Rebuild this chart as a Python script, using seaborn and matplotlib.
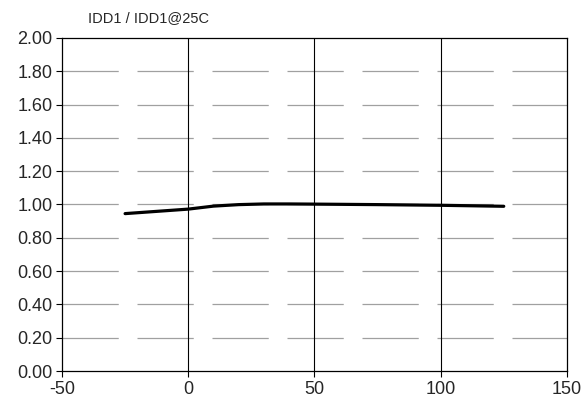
import matplotlib
matplotlib.use("Agg")
import matplotlib.pyplot as plt
import seaborn as sns
import numpy as np
import pandas as pd

# Data
temp_c = [-25, 0, 10, 20, 30, 40, 50, 75, 100, 125]
idd_ratio = [0.945, 0.972, 0.99, 0.999, 1.003, 1.003, 1.002, 0.999, 0.995, 0.989]
x_ticks = [-50, 0, 50, 100, 150]
y_ticks = np.arange(0, 2.01, 0.2)

df = pd.DataFrame({"temp": temp_c, "ratio": idd_ratio})

sns.set_style("white")
plt.rcParams['font.family'] = ['Liberation Sans', 'DejaVu Sans']
plt.rcParams['axes.unicode_minus'] = False

fig = plt.figure(figsize=(5.82, 4.12), dpi=100)
ax = fig.add_axes([0.1065, 0.0995, 0.8675, 0.8085])

# horizontal dashed grid
for yv in y_ticks[1:-1]:
    ax.axhline(yv, color='#a0a0a0', linewidth=0.9, dashes=(45, 15), zorder=1)
# vertical solid grid
for xv in x_ticks[1:-1]:
    ax.axvline(xv, color='black', linewidth=0.8, zorder=1)

sns.lineplot(data=df, x="temp", y="ratio", color='black', linewidth=2.3, ax=ax, zorder=3)

ax.set_xlim(-50, 150)
ax.set_ylim(0, 2)
ax.set_xticks(x_ticks)
ax.set_xticklabels([str(v) for v in x_ticks])
ax.set_yticks(y_ticks)
ax.set_yticklabels([f"{v:.2f}" for v in y_ticks])
ax.set_xlabel("")
ax.set_ylabel("")
ax.tick_params(axis='both', which='major', labelsize=13, direction='out',
               length=4, width=0.8, color='black', left=True, bottom=True, pad=3)
for s in ax.spines.values():
    s.set_color('black')
    s.set_linewidth(0.9)

fig.text(148 / 582, 1 - 18 / 412, "IDD1 / IDD1@25C", fontsize=10.5,
         ha='center', va='center')

fig.savefig('out.png', dpi=100)
